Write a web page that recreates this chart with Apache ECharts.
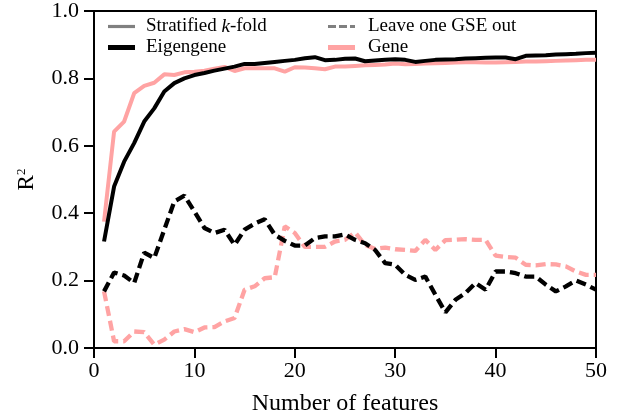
<!DOCTYPE html>
<html>
<head>
<meta charset="utf-8">
<script src="https://cdn.jsdelivr.net/npm/echarts@6/dist/echarts.min.js"></script>
<style>html,body{margin:0;padding:0;background:#fff}#c{width:620px;height:419px}</style>
</head>
<body>
<div id="c"></div>
<script>
const features = [1,2,3,4,5,6,7,8,9,10,11,12,13,14,15,16,17,18,19,20,21,22,23,24,25,26,27,28,29,30,31,32,33,34,35,36,37,38,39,40,41,42,43,44,45,46,47,48,49,50];
const eigengeneKfold = [.316,.479,.553,.608,.672,.711,.761,.786,.800,.810,.816,.823,.829,.835,.843,.843,.846,.849,.852,.855,.860,.863,.854,.855,.858,.859,.851,.853,.855,.857,.855,.849,.852,.855,.856,.857,.859,.860,.861,.862,.862,.857,.867,.868,.869,.871,.872,.873,.875,.876];
const geneKfold = [.375,.642,.672,.756,.778,.787,.812,.810,.818,.820,.823,.829,.834,.822,.830,.830,.830,.830,.820,.833,.832,.830,.827,.835,.835,.837,.839,.840,.841,.844,.842,.843,.844,.845,.846,.847,.848,.848,.847,.847,.848,.849,.850,.850,.851,.852,.853,.854,.855,.855];
const eigengeneLogo = [.168,.224,.215,.193,.283,.267,.351,.435,.452,.405,.356,.341,.351,.306,.351,.369,.382,.336,.318,.304,.304,.326,.331,.331,.337,.321,.311,.291,.252,.247,.217,.202,.212,.158,.106,.143,.163,.193,.173,.227,.227,.222,.212,.212,.188,.168,.183,.200,.188,.173];
const geneLogo = [.168,.020,.020,.049,.047,.010,.025,.049,.056,.047,.061,.062,.079,.089,.173,.183,.207,.210,.361,.341,.300,.300,.300,.316,.321,.343,.306,.294,.298,.293,.291,.288,.321,.291,.320,.321,.323,.321,.321,.274,.270,.268,.247,.245,.249,.248,.242,.227,.217,.217];
const yTicks = ['0.0','0.2','0.4','0.6','0.8','1.0'];

const FONT = "'Liberation Serif', 'Times New Roman', serif";
const PINK = '#ffa3a3';
const pair = (xs, ys) => xs.map((x, i) => [x, ys[i]]);

const ICON_THIN = 'path://M0,0H27V3.2H0Z';
const ICON_THICK = 'path://M0,0H27V5H0Z';
const ICON_DASH = 'path://M0,0H8V3.2H0Z M11,0H19V3.2H11Z M22,0H27V3.2H22Z';

const chart = echarts.init(document.getElementById('c'), null, {renderer: 'canvas'});
const lineSeries = (name, data, color, type, z) => ({
  name, type: 'line', data, symbol: 'none', z, animation: false,
  lineStyle: {color, width: type === 'solid' ? 4 : 4.3, type: type === 'solid' ? 'solid' : [10, 5]},
  itemStyle: {color}
});
const legendBase = {
  orient: 'vertical', itemWidth: 27, itemHeight: 12, itemGap: 2, symbolKeepAspect: true
};
chart.setOption({
  animation: false,
  grid: {left: 94, right: 24, top: 11, bottom: 71, show: true, borderColor: '#000', borderWidth: 2,
         containLabel: false, outerBoundsMode: 'none'},
  legend: [
    Object.assign({}, legendBase, {left: 103, top: 12,
     textStyle: {fontFamily: FONT, fontSize: 19, color: '#000', padding: [0, 0, 0, 6],
       rich: {i: {fontFamily: FONT, fontSize: 19, fontStyle: 'italic', color: '#000'}}},
     formatter: n => n === 'Stratified k-fold' ? 'Stratified {i|k}-fold' : n,
     data: [{name: 'Stratified k-fold', icon: ICON_THIN}, {name: 'Eigengene', icon: ICON_THICK}]}),
    Object.assign({}, legendBase, {left: 323, top: 12,
     textStyle: {fontFamily: FONT, fontSize: 19, color: '#000', padding: [0, 0, 0, 8]},
     data: [{name: 'Leave one GSE out', icon: ICON_DASH}, {name: 'Gene', icon: ICON_THICK}]})
  ],
  xAxis: {
    type: 'value', min: 0, max: 50, interval: 10,
    name: 'Number of features', nameLocation: 'middle', nameGap: 44,
    nameTextStyle: {fontFamily: FONT, fontSize: 24, color: '#000'},
    axisLine: {show: true, lineStyle: {color: '#000', width: 2}},
    axisTick: {show: true, length: 10, lineStyle: {color: '#000', width: 2}},
    axisLabel: {fontFamily: FONT, fontSize: 22, color: '#000', margin: 12},
    splitLine: {show: false}
  },
  yAxis: {
    type: 'value', min: 0, max: 1, interval: 0.2,
    name: 'R{sup|2}', nameLocation: 'middle', nameGap: 56, nameRotate: 90,
    nameTextStyle: {fontFamily: FONT, fontSize: 23, color: '#000',
      rich: {sup: {fontFamily: FONT, fontSize: 13, color: '#000', padding: [0, 0, 10, 0]}}},
    axisLine: {show: true, lineStyle: {color: '#000', width: 2}},
    axisTick: {show: true, length: 10, lineStyle: {color: '#000', width: 2}},
    axisLabel: {fontFamily: FONT, fontSize: 22, color: '#000', margin: 15,
      formatter: v => yTicks[Math.round(v / 0.2)]},
    splitLine: {show: false}
  },
  series: [
    {name: 'Stratified k-fold', type: 'line', data: [], symbol: 'none',
     lineStyle: {color: '#808080', width: 3}, itemStyle: {color: '#808080'}},
    {name: 'Leave one GSE out', type: 'line', data: [], symbol: 'none',
     lineStyle: {color: '#808080', width: 3, type: [8, 4]}, itemStyle: {color: '#808080'}},
    lineSeries('Gene', pair(features, geneKfold), PINK, 'solid', 2),
    lineSeries('Gene', pair(features, geneLogo), PINK, 'dashed', 2),
    lineSeries('Eigengene', pair(features, eigengeneKfold), '#000', 'solid', 3),
    lineSeries('Eigengene', pair(features, eigengeneLogo), '#000', 'dashed', 3)
  ]
});
</script>
</body>
</html>
